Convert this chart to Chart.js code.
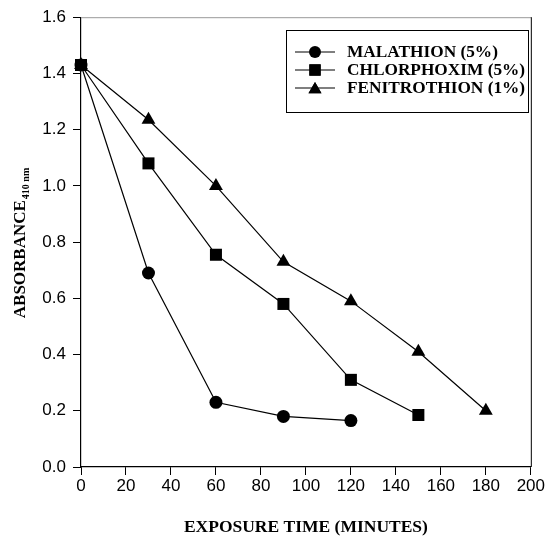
<!DOCTYPE html>
<html><head><meta charset="utf-8">
<script src="https://cdn.jsdelivr.net/npm/chart.js@4.4.1/dist/chart.umd.min.js"></script>
<style>html,body{margin:0;padding:0;background:#fff}canvas{display:block}</style>
</head><body>
<canvas id="c" width="546" height="538"></canvas>
<script>
// ---- data ----
const minutesMalathion = [0, 30, 60, 90, 120];
const absMalathion = [1.43, 0.69, 0.23, 0.18, 0.165];
const minutesChlorphoxim = [0, 30, 60, 90, 120, 150];
const absChlorphoxim = [1.43, 1.08, 0.755, 0.58, 0.31, 0.185];
const minutesFenitrothion = [0, 30, 60, 90, 120, 150, 180];
const absFenitrothion = [1.43, 1.235, 1.0, 0.73, 0.59, 0.41, 0.2];
const seriesLabels = ['MALATHION (5%)', 'CHLORPHOXIM (5%)', 'FENITROTHION (1%)'];
const seriesMarkers = ['circle', 'rect', 'triangle'];
const xTickValues = [0, 20, 40, 60, 80, 100, 120, 140, 160, 180, 200];
const yTickValues = [0.0, 0.2, 0.4, 0.6, 0.8, 1.0, 1.2, 1.4, 1.6];
const xTitle = 'EXPOSURE TIME (MINUTES)';
const yTitleMain = 'ABSORBANCE';
const yTitleSub = '410 nm';

const markerRadius = {circle: 6.5, rect: 8.5, triangle: 8};
const serif = '"Liberation Serif", "Times New Roman", serif';
const sans = '"Liberation Sans", Arial, sans-serif';

function pts(xs, ys) { return xs.map((x, i) => ({x: x, y: ys[i]})); }
const seriesData = [
  pts(minutesMalathion, absMalathion),
  pts(minutesChlorphoxim, absChlorphoxim),
  pts(minutesFenitrothion, absFenitrothion)
];

const datasets = seriesData.map((d, i) => ({
  label: seriesLabels[i],
  data: d,
  borderColor: '#000',
  backgroundColor: '#000',
  borderWidth: 1.2,
  pointStyle: seriesMarkers[i],
  pointRadius: markerRadius[seriesMarkers[i]],
  pointBorderWidth: 0,
  pointBackgroundColor: '#000',
  tension: 0,
  clip: false
}));

const framePlugin = {
  id: 'frame',
  afterDraw(chart) {
    const {ctx, chartArea: a} = chart;
    ctx.save();
    ctx.lineWidth = 1;
    ctx.strokeStyle = '#999';
    ctx.beginPath();
    ctx.moveTo(a.left, a.top + 0.5);
    ctx.lineTo(a.right + 0.5, a.top + 0.5);
    ctx.stroke();
    ctx.strokeStyle = '#000';
    ctx.beginPath();
    ctx.moveTo(a.right + 0.5, a.top);
    ctx.lineTo(a.right + 0.5, a.bottom);
    ctx.stroke();
    ctx.restore();
  }
};

const yTitlePlugin = {
  id: 'yTitle',
  afterDraw(chart) {
    const ctx = chart.ctx;
    ctx.save();
    ctx.fillStyle = '#000';
    ctx.translate(21, 243);
    ctx.rotate(-Math.PI / 2);
    ctx.textBaseline = 'middle';
    ctx.textAlign = 'left';
    ctx.font = 'bold 17px ' + serif;
    const wMain = ctx.measureText(yTitleMain).width;
    ctx.font = 'bold 10px ' + serif;
    const wSub = ctx.measureText(yTitleSub).width;
    const start = -(wMain + wSub + 1) / 2;
    ctx.font = 'bold 17px ' + serif;
    ctx.fillText(yTitleMain, start, 0);
    ctx.font = 'bold 10px ' + serif;
    ctx.fillText(yTitleSub, start + wMain + 1, 5);
    ctx.restore();
  }
};

const legendPlugin = {
  id: 'boxLegend',
  afterDraw(chart) {
    const ctx = chart.ctx;
    const bx = 286, by = 30, bw = 242, bh = 82;
    ctx.save();
    ctx.fillStyle = '#fff';
    ctx.fillRect(bx, by, bw, bh);
    ctx.strokeStyle = '#000';
    ctx.lineWidth = 1;
    ctx.strokeRect(bx + 0.5, by + 0.5, bw, bh);
    const rows = [52, 70, 88];
    chart.data.datasets.forEach((ds, i) => {
      const y = rows[i];
      ctx.strokeStyle = '#000';
      ctx.lineWidth = 1.2;
      ctx.beginPath();
      ctx.moveTo(295, y);
      ctx.lineTo(335, y);
      ctx.stroke();
      const r = ds.pointStyle === 'triangle' ? 7.5 : (ds.pointStyle === 'rect' ? 8 : 6);
      Chart.helpers.drawPoint(ctx, {pointStyle: ds.pointStyle, radius: r, borderWidth: 0, rotation: 0}, 315, ds.pointStyle === 'triangle' ? y + 1.5 : y);
      ctx.fillStyle = '#000';
      ctx.fill();
      ctx.font = 'bold 17.3px ' + serif;
      ctx.textBaseline = 'middle';
      ctx.textAlign = 'left';
      ctx.fillText(ds.label, 347, y + 1);
    });
    ctx.restore();
  }
};

new Chart(document.getElementById('c'), {
  type: 'line',
  data: {datasets: datasets},
  plugins: [framePlugin, yTitlePlugin, legendPlugin],
  options: {
    responsive: false,
    animation: false,
    devicePixelRatio: 1,
    layout: {padding: {top: 15, right: 15, left: 0, bottom: 0}},
    plugins: {legend: {display: false}, tooltip: {enabled: false}},
    scales: {
      x: {
        type: 'linear',
        min: 0, max: 200,
        afterBuildTicks(s) { s.ticks = xTickValues.map(v => ({value: v})); },
        afterFit(s) { s.height = 71; },
        ticks: {color: '#000', font: {family: sans, size: 17}, padding: 1, maxRotation: 0, autoSkip: false},
        grid: {drawOnChartArea: false, drawTicks: true, tickLength: 8, color: '#000', tickColor: '#000', lineWidth: 1},
        border: {color: '#000', width: 1.2},
        title: {display: true, text: xTitle, color: '#000', font: {family: serif, size: 17.5, weight: 'bold'}, padding: {top: 0, bottom: 0}}
      },
      y: {
        type: 'linear',
        min: 0, max: 1.6,
        afterBuildTicks(s) { s.ticks = yTickValues.map(v => ({value: v})); },
        afterFit(s) { s.width = 81; },
        ticks: {color: '#000', font: {family: sans, size: 17}, padding: 7, callback: v => v.toFixed(1), autoSkip: false},
        grid: {drawOnChartArea: false, drawTicks: true, tickLength: 8, color: '#000', tickColor: '#000', lineWidth: 1},
        border: {color: '#000', width: 1.2}
      }
    }
  }
});
</script>
</body></html>
